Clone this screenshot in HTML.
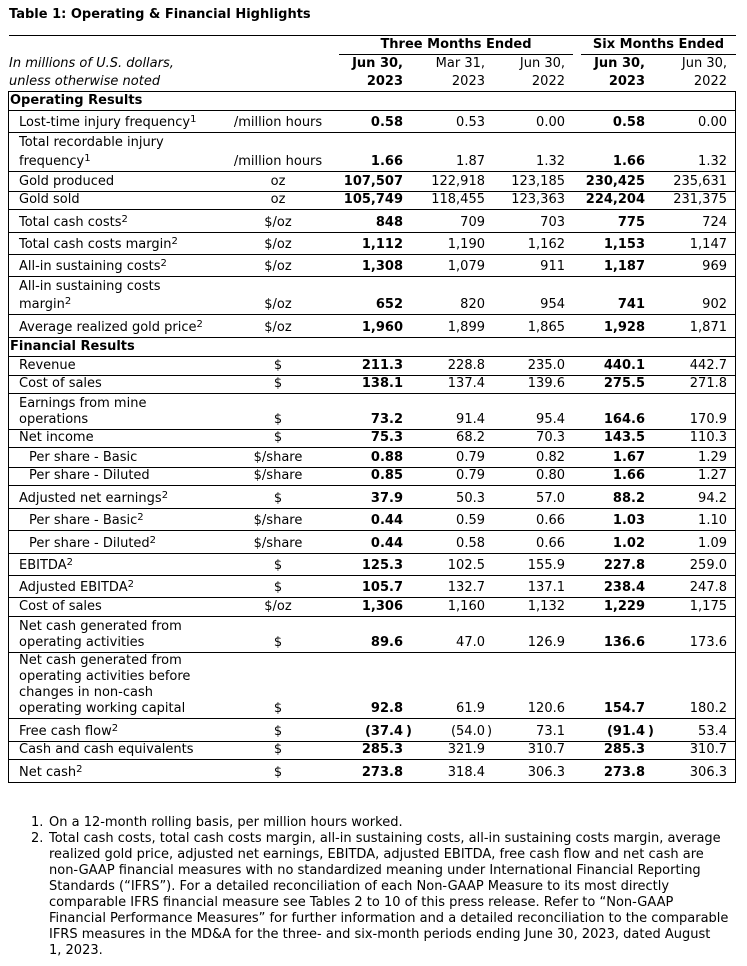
<!DOCTYPE html>
<html>
<head>
<meta charset="utf-8">
<style>
body{margin:0;width:747px;height:966px;background:#fff;position:relative;font-family:"DejaVu Sans","Liberation Sans",sans-serif;font-size:13px;color:#000;overflow:hidden}
.a{position:absolute;white-space:nowrap;line-height:16px}
.hl{position:absolute;height:1px;background:#000}
.box{position:absolute;left:8px;top:91px;width:728px;height:692px;border:1px solid #000;box-sizing:border-box}
.r{position:absolute;left:8px;width:728px;border-top:1px solid #000;box-sizing:border-box}
.r>div{position:absolute;bottom:1.5px;white-space:nowrap;line-height:16px}
.l{left:11px}
.li{left:21px}
.s{left:2px;font-weight:bold}
.u{left:210px;width:120px;text-align:center}
.c1{right:333px;font-weight:bold}
.c2{right:251px}
.c3{right:171px}
.c4{right:91px;font-weight:bold}
.c5{right:9px}
sup{font-size:10px;line-height:0;vertical-align:baseline;position:relative;top:-4px}
.p{position:absolute;left:100%;margin-left:3px}
.p2{position:absolute;left:100%;margin-left:2px}
.h{position:absolute;top:55px;line-height:18px;text-align:right;white-space:nowrap}
</style>
</head>
<body>
<div class="a" style="left:9px;top:7px;font-weight:bold">Table 1: Operating &amp; Financial Highlights</div>
<div class="hl" style="left:9px;top:35px;width:727px"></div>
<div class="a" style="left:339px;top:37px;width:234px;text-align:center;font-weight:bold">Three Months Ended</div>
<div class="a" style="left:581px;top:37px;width:155px;text-align:center;font-weight:bold">Six Months Ended</div>
<div class="hl" style="left:339px;top:54px;width:234px"></div>
<div class="hl" style="left:581px;top:54px;width:155px"></div>

<div class="a" style="left:9px;top:55px;line-height:18px;font-style:italic">In millions of U.S. dollars,<br>unless otherwise noted</div>
<div class="h" style="right:344px;font-weight:bold">Jun 30,<br>2023</div>
<div class="h" style="right:262px">Mar 31,<br>2023</div>
<div class="h" style="right:182px">Jun 30,<br>2022</div>
<div class="h" style="right:102px;font-weight:bold">Jun 30,<br>2023</div>
<div class="h" style="right:20px">Jun 30,<br>2022</div>

<div class="box"></div>

<div class="r" style="top:91px;height:19px"><div class="s">Operating Results</div></div>

<div class="r" style="top:110px;height:22px"><div class="l">Lost-time injury frequency<sup>1</sup></div><div class="u">/million hours</div><div class="c1">0.58</div><div class="c2">0.53</div><div class="c3">0.00</div><div class="c4">0.58</div><div class="c5">0.00</div></div>

<div class="r" style="top:132px;height:39px"><div class="l"><div style="margin-bottom:3px">Total recordable injury</div>frequency<sup>1</sup></div><div class="u">/million hours</div><div class="c1">1.66</div><div class="c2">1.87</div><div class="c3">1.32</div><div class="c4">1.66</div><div class="c5">1.32</div></div>

<div class="r" style="top:171px;height:20px"><div class="l">Gold produced</div><div class="u">oz</div><div class="c1">107,507</div><div class="c2">122,918</div><div class="c3">123,185</div><div class="c4">230,425</div><div class="c5">235,631</div></div>

<div class="r" style="top:191px;height:18px"><div class="l">Gold sold</div><div class="u">oz</div><div class="c1">105,749</div><div class="c2">118,455</div><div class="c3">123,363</div><div class="c4">224,204</div><div class="c5">231,375</div></div>

<div class="r" style="top:209px;height:23px"><div class="l">Total cash costs<sup>2</sup></div><div class="u">$/oz</div><div class="c1">848</div><div class="c2">709</div><div class="c3">703</div><div class="c4">775</div><div class="c5">724</div></div>

<div class="r" style="top:232px;height:22px"><div class="l">Total cash costs margin<sup>2</sup></div><div class="u">$/oz</div><div class="c1">1,112</div><div class="c2">1,190</div><div class="c3">1,162</div><div class="c4">1,153</div><div class="c5">1,147</div></div>

<div class="r" style="top:254px;height:22px"><div class="l">All-in sustaining costs<sup>2</sup></div><div class="u">$/oz</div><div class="c1">1,308</div><div class="c2">1,079</div><div class="c3">911</div><div class="c4">1,187</div><div class="c5">969</div></div>

<div class="r" style="top:276px;height:38px"><div class="l"><div style="margin-bottom:2px">All-in sustaining costs</div>margin<sup>2</sup></div><div class="u">$/oz</div><div class="c1">652</div><div class="c2">820</div><div class="c3">954</div><div class="c4">741</div><div class="c5">902</div></div>

<div class="r" style="top:314px;height:23px"><div class="l">Average realized gold price<sup>2</sup></div><div class="u">$/oz</div><div class="c1">1,960</div><div class="c2">1,899</div><div class="c3">1,865</div><div class="c4">1,928</div><div class="c5">1,871</div></div>

<div class="r" style="top:337px;height:19px"><div class="s">Financial Results</div></div>

<div class="r" style="top:356px;height:19px"><div class="l">Revenue</div><div class="u">$</div><div class="c1">211.3</div><div class="c2">228.8</div><div class="c3">235.0</div><div class="c4">440.1</div><div class="c5">442.7</div></div>

<div class="r" style="top:375px;height:18px"><div class="l">Cost of sales</div><div class="u">$</div><div class="c1">138.1</div><div class="c2">137.4</div><div class="c3">139.6</div><div class="c4">275.5</div><div class="c5">271.8</div></div>

<div class="r" style="top:393px;height:36px"><div class="l">Earnings from mine<br>operations</div><div class="u">$</div><div class="c1">73.2</div><div class="c2">91.4</div><div class="c3">95.4</div><div class="c4">164.6</div><div class="c5">170.9</div></div>

<div class="r" style="top:429px;height:18px"><div class="l">Net income</div><div class="u">$</div><div class="c1">75.3</div><div class="c2">68.2</div><div class="c3">70.3</div><div class="c4">143.5</div><div class="c5">110.3</div></div>

<div class="r" style="top:447px;height:20px"><div class="li">Per share - Basic</div><div class="u">$/share</div><div class="c1">0.88</div><div class="c2">0.79</div><div class="c3">0.82</div><div class="c4">1.67</div><div class="c5">1.29</div></div>

<div class="r" style="top:467px;height:18px"><div class="li">Per share - Diluted</div><div class="u">$/share</div><div class="c1">0.85</div><div class="c2">0.79</div><div class="c3">0.80</div><div class="c4">1.66</div><div class="c5">1.27</div></div>

<div class="r" style="top:485px;height:23px"><div class="l">Adjusted net earnings<sup>2</sup></div><div class="u">$</div><div class="c1">37.9</div><div class="c2">50.3</div><div class="c3">57.0</div><div class="c4">88.2</div><div class="c5">94.2</div></div>

<div class="r" style="top:508px;height:22px"><div class="li">Per share - Basic<sup>2</sup></div><div class="u">$/share</div><div class="c1">0.44</div><div class="c2">0.59</div><div class="c3">0.66</div><div class="c4">1.03</div><div class="c5">1.10</div></div>

<div class="r" style="top:530px;height:23px"><div class="li">Per share - Diluted<sup>2</sup></div><div class="u">$/share</div><div class="c1">0.44</div><div class="c2">0.58</div><div class="c3">0.66</div><div class="c4">1.02</div><div class="c5">1.09</div></div>

<div class="r" style="top:553px;height:22px"><div class="l">EBITDA<sup>2</sup></div><div class="u">$</div><div class="c1">125.3</div><div class="c2">102.5</div><div class="c3">155.9</div><div class="c4">227.8</div><div class="c5">259.0</div></div>

<div class="r" style="top:575px;height:22px"><div class="l">Adjusted EBITDA<sup>2</sup></div><div class="u">$</div><div class="c1">105.7</div><div class="c2">132.7</div><div class="c3">137.1</div><div class="c4">238.4</div><div class="c5">247.8</div></div>

<div class="r" style="top:597px;height:19px"><div class="l">Cost of sales</div><div class="u">$/oz</div><div class="c1">1,306</div><div class="c2">1,160</div><div class="c3">1,132</div><div class="c4">1,229</div><div class="c5">1,175</div></div>

<div class="r" style="top:616px;height:36px"><div class="l">Net cash generated from<br>operating activities</div><div class="u">$</div><div class="c1">89.6</div><div class="c2">47.0</div><div class="c3">126.9</div><div class="c4">136.6</div><div class="c5">173.6</div></div>

<div class="r" style="top:652px;height:66px"><div class="l">Net cash generated from<br>operating activities before<br>changes in non-cash<br>operating working capital</div><div class="u">$</div><div class="c1">92.8</div><div class="c2">61.9</div><div class="c3">120.6</div><div class="c4">154.7</div><div class="c5">180.2</div></div>

<div class="r" style="top:718px;height:23px"><div class="l">Free cash flow<sup>2</sup></div><div class="u">$</div><div class="c1">(37.4<span class="p">)</span></div><div class="c2">(54.0<span class="p2">)</span></div><div class="c3">73.1</div><div class="c4">(91.4<span class="p">)</span></div><div class="c5">53.4</div></div>

<div class="r" style="top:741px;height:18px"><div class="l">Cash and cash equivalents</div><div class="u">$</div><div class="c1">285.3</div><div class="c2">321.9</div><div class="c3">310.7</div><div class="c4">285.3</div><div class="c5">310.7</div></div>

<div class="r" style="top:759px;height:23px"><div class="l">Net cash<sup>2</sup></div><div class="u">$</div><div class="c1">273.8</div><div class="c2">318.4</div><div class="c3">306.3</div><div class="c4">273.8</div><div class="c5">306.3</div></div>

<div class="a" style="left:31px;top:815px">1.</div>
<div class="a" style="left:31px;top:831px">2.</div>
<div class="a" style="left:49px;top:815px">On a 12-month rolling basis, per million hours worked.<br>Total cash costs, total cash costs margin, all-in sustaining costs, all-in sustaining costs margin, average<br>realized gold price, adjusted net earnings, EBITDA, adjusted EBITDA, free cash flow and net cash are<br>non-GAAP financial measures with no standardized meaning under International Financial Reporting<br>Standards (“IFRS”). For a detailed reconciliation of each Non-GAAP Measure to its most directly<br>comparable IFRS financial measure see Tables 2 to 10 of this press release. Refer to “Non-GAAP<br>Financial Performance Measures” for further information and a detailed reconciliation to the comparable<br>IFRS measures in the MD&amp;A for the three- and six-month periods ending June 30, 2023, dated August<br>1, 2023.</div>
</body>
</html>
